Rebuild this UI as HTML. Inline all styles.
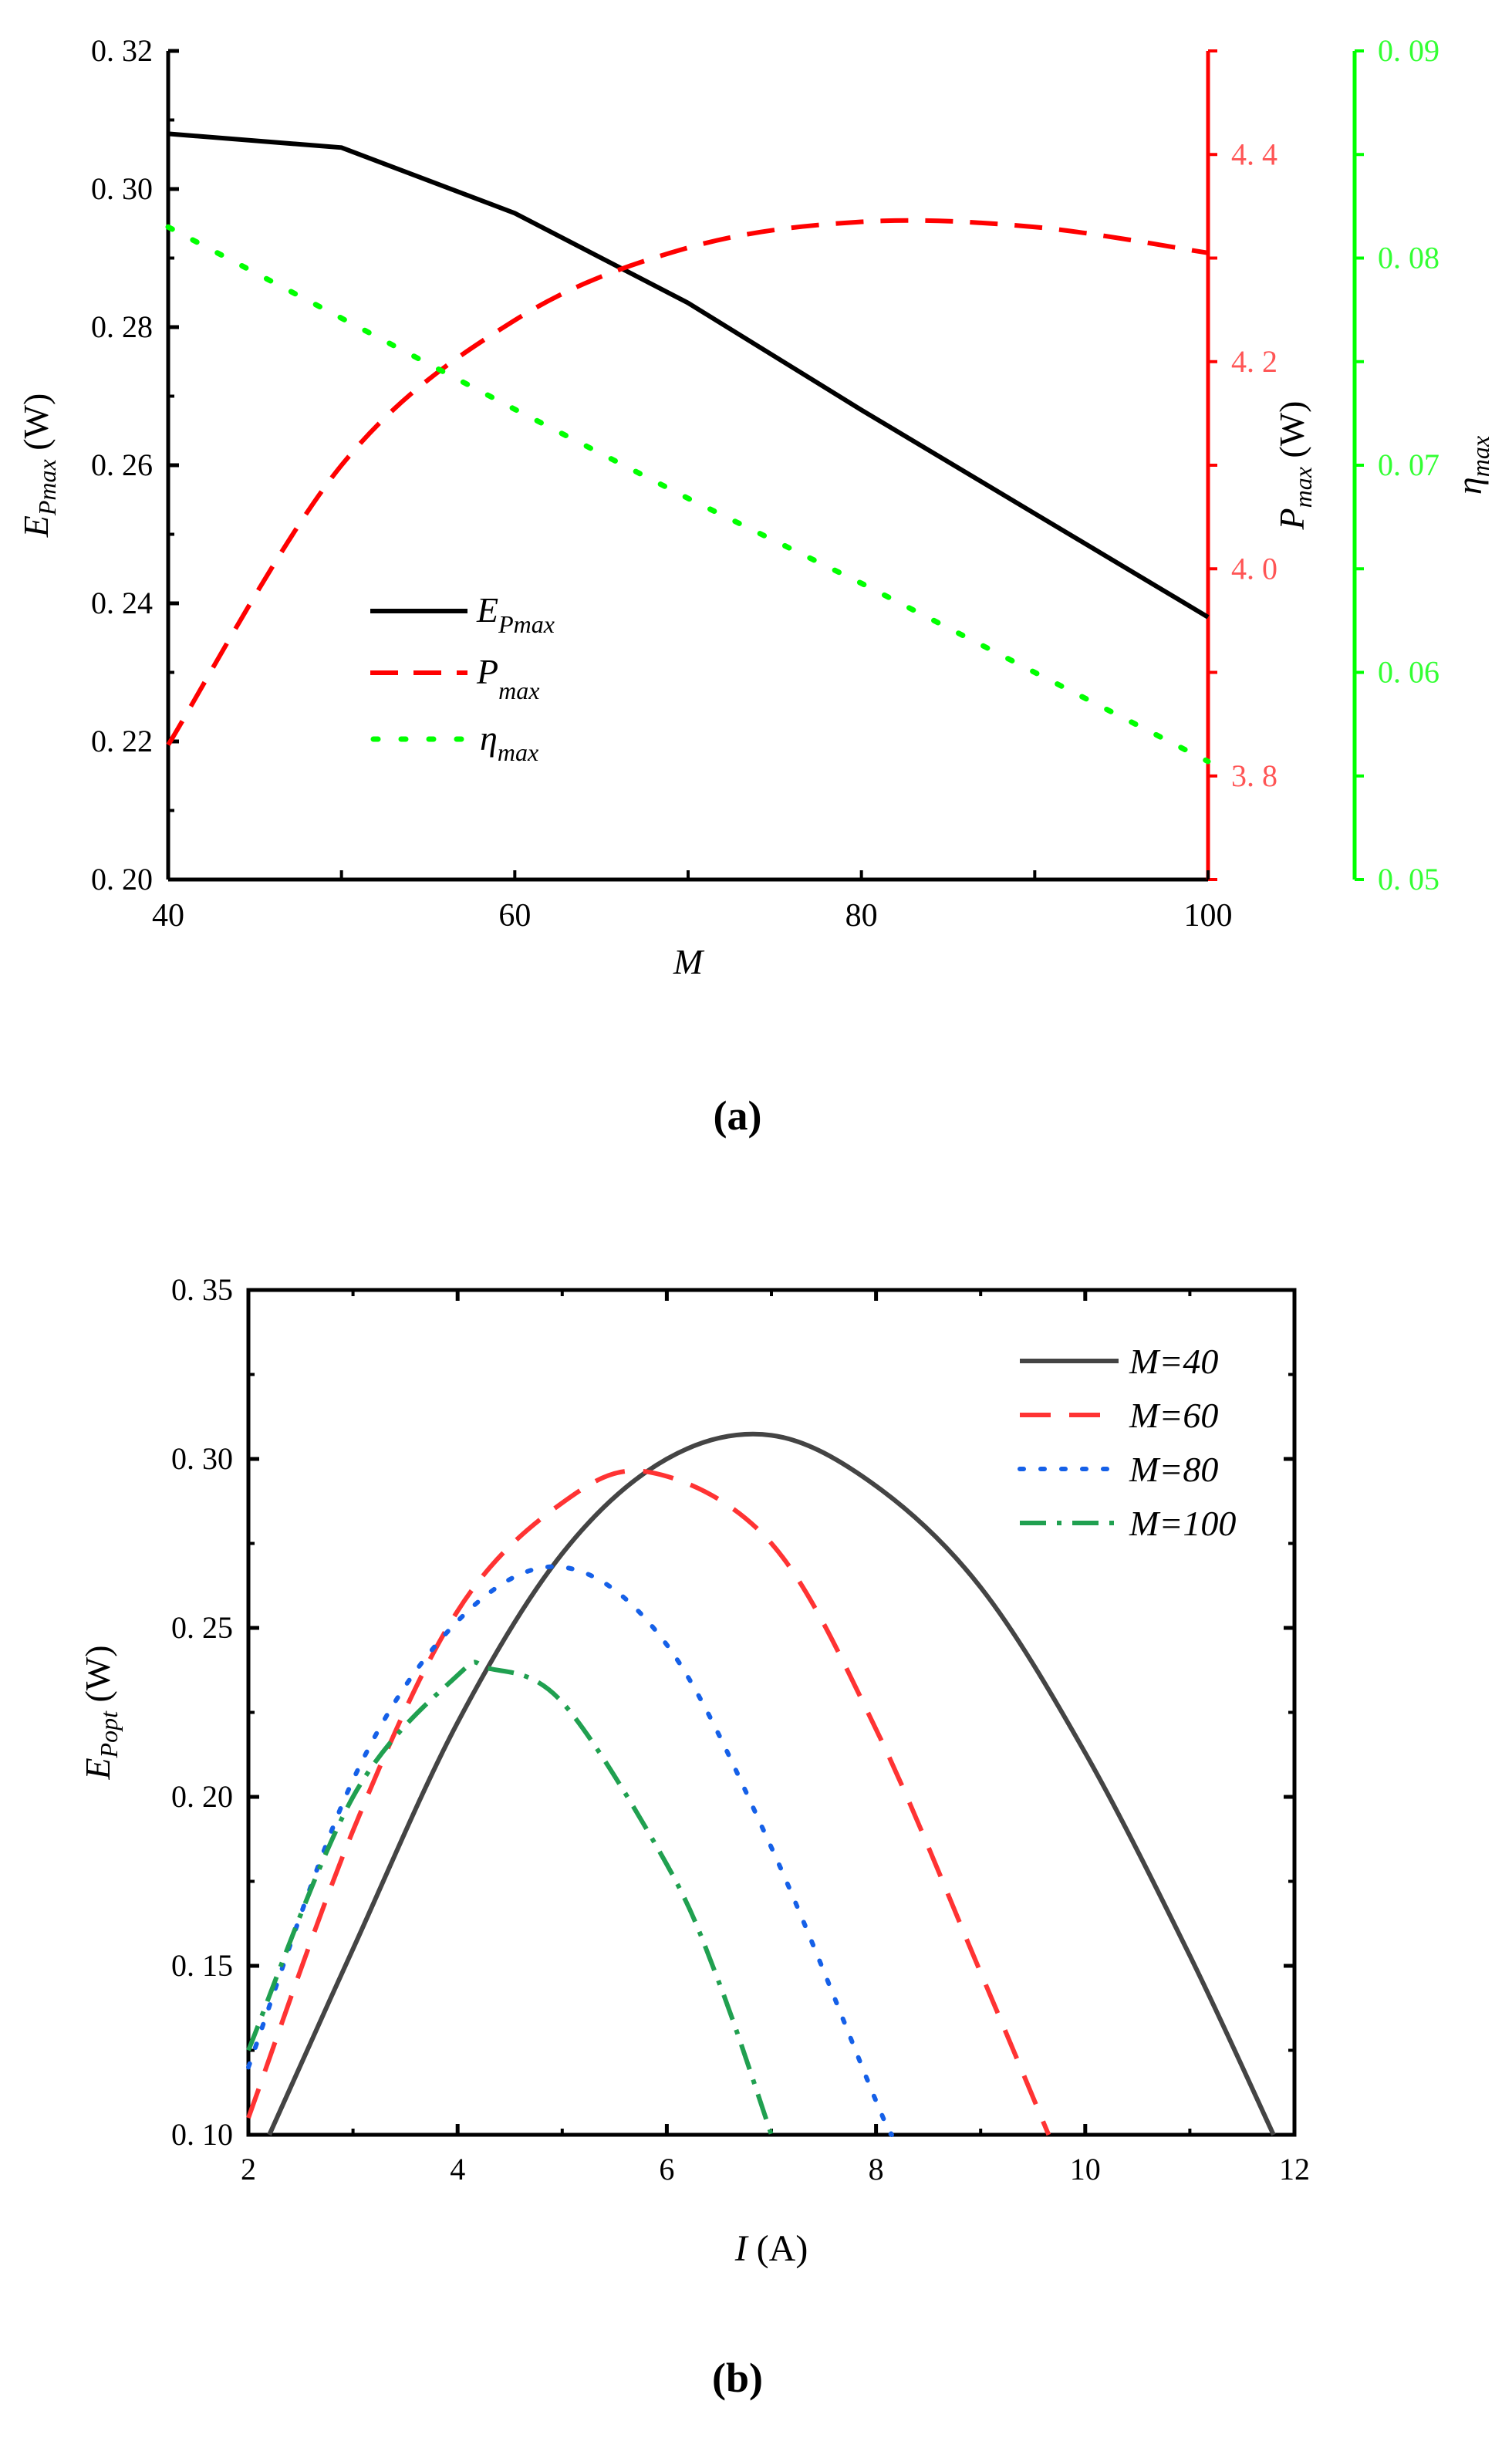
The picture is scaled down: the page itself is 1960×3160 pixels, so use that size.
<!DOCTYPE html>
<html><head><meta charset="utf-8"><style>
body{margin:0;background:#fff;}
svg{display:block;font-family:"Liberation Serif","Noto Serif CJK SC",serif;}
</style></head><body>
<svg id="s" width="1960" height="3160" viewBox="0 0 1960 3160"></svg>
<script>
// ---- chart (a) data ----
const aM=[40,50,60,70,80,90,100];
const aE=[0.308,0.306,0.2965,0.2835,0.268,0.253,0.238];
const aP=[3.83,4.10,4.24,4.31,4.335,4.33,4.305];
const aEta=[0.0815,0.0771,0.0727,0.0684,0.0643,0.0600,0.0557];
const aLeftTicks=["0. 20","0. 22","0. 24","0. 26","0. 28","0. 30","0. 32"];
const aRedTicks=["3. 8","4. 0","4. 2","4. 4"];
const aGreenTicks=["0. 05","0. 06","0. 07","0. 08","0. 09"];
const aXTicks=["40","60","80","100"];
// ---- chart (b) data ----
const b40I=[2.2,3,4,5,6,7,8,9,10,11,11.8];
const b40E=[0.10,0.155,0.222,0.272,0.300,0.307,0.292,0.262,0.213,0.153,0.10];
const b60I=[2,3,4,5,5.85,7,8,9,9.65];
const b60E=[0.105,0.19,0.255,0.287,0.296,0.275,0.22,0.148,0.10];
const b80I=[2,3,4,5,6,7,8,8.15];
const b80E=[0.12,0.205,0.252,0.268,0.245,0.185,0.11,0.10];
const b100I=[2,3,4,4.3,5,6,6.5,7];
const b100E=[0.125,0.20,0.236,0.238,0.228,0.18,0.145,0.10];
const bYTicks=["0. 10","0. 15","0. 20","0. 25","0. 30","0. 35"];
const bXTicks=["2","4","6","8","10","12"];

const NS="http://www.w3.org/2000/svg";
const svg=document.getElementById('s');
function el(t,a,p){const e=document.createElementNS(NS,t);for(const k in a)e.setAttribute(k,a[k]);(p||svg).appendChild(e);return e;}
function txt(x,y,s,a,p){const e=el('text',Object.assign({x:x,y:y},a),p);e.textContent=s;return e;}
function smooth(pts){let d=`M${pts[0][0]},${pts[0][1]}`;for(let i=0;i<pts.length-1;i++){const p0=pts[Math.max(0,i-1)],p1=pts[i],p2=pts[i+1],p3=pts[Math.min(pts.length-1,i+2)];d+=` C${p1[0]+(p2[0]-p0[0])/6},${p1[1]+(p2[1]-p0[1])/6} ${p2[0]-(p3[0]-p1[0])/6},${p2[1]-(p3[1]-p1[1])/6} ${p2[0]},${p2[1]}`;}return d;}

// ===== Chart (a) =====
const AL=218,AR=1566,AG=1756,AT=66,AB=1140;
const ax=v=>AL+(v-40)/60*(AR-AL);
const ayE=v=>AB-(v-0.20)/0.12*(AB-AT);
const ayP=v=>AB-(v-3.7)/0.8*(AB-AT);
const ayN=v=>AB-(v-0.05)/0.04*(AB-AT);
let g=el('g',{});
el('line',{x1:AL,y1:AT,x2:AL,y2:AB,stroke:'#000','stroke-width':5},g);
el('line',{x1:AL,y1:AB,x2:AR,y2:AB,stroke:'#000','stroke-width':5},g);
el('line',{x1:AR,y1:AT,x2:AR,y2:AB,stroke:'#f00','stroke-width':5},g);
el('line',{x1:AG,y1:AT,x2:AG,y2:AB,stroke:'#0f0','stroke-width':5},g);
aLeftTicks.forEach((t,i)=>{const y=ayE(0.20+i*0.02);el('line',{x1:AL,y1:y,x2:AL+14,y2:y,stroke:'#000','stroke-width':5},g);if(i<6)el('line',{x1:AL,y1:ayE(0.21+i*0.02),x2:AL+8,y2:ayE(0.21+i*0.02),stroke:'#000','stroke-width':4},g);txt(AL-20,y+13,t,{'text-anchor':'end','font-size':40,fill:'#000'},g);});
for(let v=3.7;v<=4.5001;v+=0.1){const y=ayP(v);el('line',{x1:AR,y1:y,x2:AR+12,y2:y,stroke:'#f00','stroke-width':4},g);}
aRedTicks.forEach((t,i)=>txt(AR+30,ayP(3.8+i*0.2)+13,t,{'font-size':40,fill:'#f55'},g));
for(let v=0.05;v<=0.0901;v+=0.005){const y=ayN(v);el('line',{x1:AG,y1:y,x2:AG+12,y2:y,stroke:'#0f0','stroke-width':4},g);}
aGreenTicks.forEach((t,i)=>txt(AG+30,ayN(0.05+i*0.01)+13,t,{'font-size':40,fill:'#3f3'},g));
for(let v=40;v<=100;v+=10){el('line',{x1:ax(v),y1:AB,x2:ax(v),y2:AB-12,stroke:'#000','stroke-width':4},g);}
aXTicks.forEach((t,i)=>txt(ax(40+i*20),AB+60,t,{'text-anchor':'middle','font-size':42},g));
let t=txt(ax(70),AB+122,'M',{'text-anchor':'middle','font-size':46,'font-style':'italic'});
t=el('text',{transform:`translate(62,${(AT+AB)/2}) rotate(-90)`,'text-anchor':'middle','font-size':46});t.innerHTML='<tspan font-style="italic">E</tspan><tspan font-style="italic" font-size="32" dy="10">Pmax</tspan><tspan dy="-10"> (W)</tspan>';
t=el('text',{transform:`translate(1690,${(AT+AB)/2}) rotate(-90)`,'text-anchor':'middle','font-size':46});t.innerHTML='<tspan font-style="italic">P</tspan><tspan font-style="italic" font-size="32" dy="10">max</tspan><tspan dy="-10"> (W)</tspan>';
t=el('text',{transform:`translate(1920,${(AT+AB)/2}) rotate(-90)`,'text-anchor':'middle','font-size':46});t.innerHTML='<tspan font-style="italic">η</tspan><tspan font-style="italic" font-size="32" dy="10">max</tspan>';
let p=el('polyline',{points:aM.map((m,i)=>ax(m)+','+ayE(aE[i])).join(' '),fill:'none',stroke:'#000','stroke-width':6});
p=el('path',{d:smooth(aM.map((m,i)=>[ax(m),ayP(aP[i])])),fill:'none',stroke:'#f00','stroke-width':6,'stroke-dasharray':'36 22'});
p=el('polyline',{points:aM.map((m,i)=>ax(m)+','+ayN(aEta[i])).join(' '),fill:'none',stroke:'#0f0','stroke-width':7,'stroke-dasharray':'6 30','stroke-linecap':'round'});
// legend a
g=el('g',{});
el('line',{x1:480,y1:792,x2:606,y2:792,stroke:'#000','stroke-width':6},g);
el('line',{x1:480,y1:872,x2:606,y2:872,stroke:'#f00','stroke-width':6,'stroke-dasharray':'36 20'},g);
el('line',{x1:484,y1:958,x2:606,y2:958,stroke:'#0f0','stroke-width':7,'stroke-dasharray':'6 30','stroke-linecap':'round'},g);
t=el('text',{x:618,y:806,'font-size':46,'font-style':'italic'},g);t.innerHTML='E<tspan font-size="32" dy="14">Pmax</tspan>';
t=el('text',{x:618,y:886,'font-size':46,'font-style':'italic'},g);t.innerHTML='P<tspan font-size="32" dy="20">max</tspan>';
t=el('text',{x:622,y:972,'font-size':46,'font-style':'italic'},g);t.innerHTML='η<tspan font-size="32" dy="14">max</tspan>';
t=txt(956,1464,'(a)',{'text-anchor':'middle','font-size':54,'font-weight':'bold'});

// ===== Chart (b) =====
const BL=322,BR=1678,BT=1672,BB=2767;
const bx=v=>BL+(v-2)/10*(BR-BL);
const by=v=>BB-(v-0.10)/0.25*(BB-BT);
g=el('g',{});
el('rect',{x:BL,y:BT,width:BR-BL,height:BB-BT,fill:'none',stroke:'#000','stroke-width':5},g);
bYTicks.forEach((tt,i)=>{const v=0.10+i*0.05,y=by(v);[[BL,1],[BR,-1]].forEach(([x0,s])=>{el('line',{x1:x0,y1:y,x2:x0+s*14,y2:y,stroke:'#000','stroke-width':5},g);if(i<5)el('line',{x1:x0,y1:by(v+0.025),x2:x0+s*8,y2:by(v+0.025),stroke:'#000','stroke-width':4},g);});txt(BL-20,y+13,tt,{'text-anchor':'end','font-size':40},g);});
bXTicks.forEach((tt,i)=>{const v=2+i*2,x=bx(v);[[BB,-1],[BT,1]].forEach(([y0,s])=>{el('line',{x1:x,y1:y0,x2:x,y2:y0+s*14,stroke:'#000','stroke-width':5},g);if(i<5)el('line',{x1:bx(v+1),y1:y0,x2:bx(v+1),y2:y0+s*8,stroke:'#000','stroke-width':4},g);});txt(x,BB+58,tt,{'text-anchor':'middle','font-size':40},g);});
t=el('text',{x:bx(7),y:2930,'text-anchor':'middle','font-size':48});t.innerHTML='<tspan font-style="italic">I</tspan> (A)';
t=el('text',{transform:`translate(142,${(BT+BB)/2}) rotate(-90)`,'text-anchor':'middle','font-size':46});t.innerHTML='<tspan font-style="italic">E</tspan><tspan font-style="italic" font-size="32" dy="10">Popt</tspan><tspan dy="-10"> (W)</tspan>';
const series=[[b40I,b40E,'#444','none','line-m40'],[b60I,b60E,'#f33','40 24','line-m60'],[b80I,b80E,'#1560e8','5 22','line-m80'],[b100I,b100E,'#20a050','34 14 6 14','line-m100']];
series.forEach(s=>{const pp=el('path',{d:smooth(s[0].map((v,i)=>[bx(v),by(s[1][i])])),fill:'none',stroke:s[2],'stroke-width':6,'stroke-dasharray':s[3],'stroke-linecap':s[4]=='line-m80'?'round':'butt'});});
g=el('g',{});
const lab=['M=40','M=60','M=80','M=100'];
series.forEach((s,i)=>{const y=1764+i*70;el('line',{x1:1322,y1:y,x2:1450,y2:y,stroke:s[2],'stroke-width':6,'stroke-dasharray':s[3],'stroke-linecap':i==2?'round':'butt'},g);txt(1464,y+16,lab[i],{'font-size':46,'font-style':'italic'},g);});
t=txt(956,3100,'(b)',{'text-anchor':'middle','font-size':54,'font-weight':'bold'});
</script>
</body></html>
